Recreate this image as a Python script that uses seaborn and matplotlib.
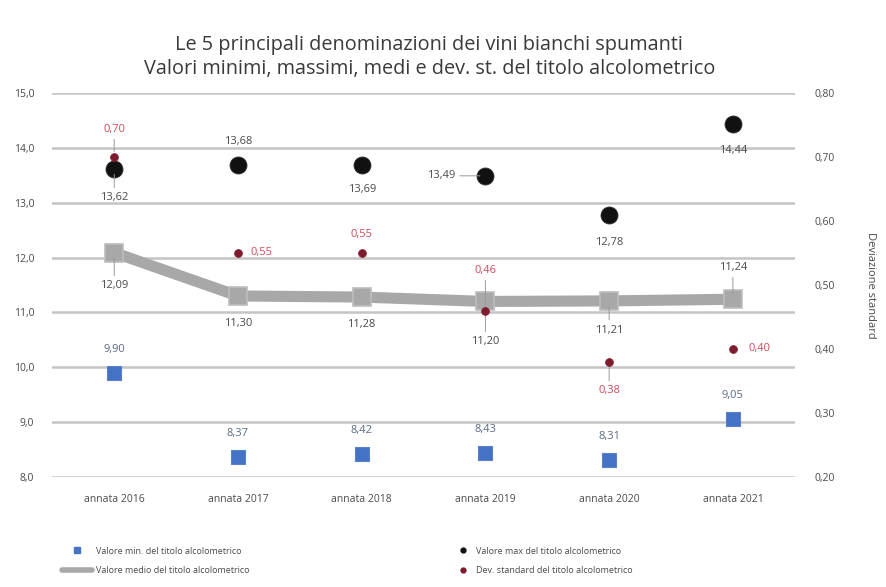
import numpy as np
import pandas as pd
import matplotlib
matplotlib.use("Agg")
import matplotlib.pyplot as plt
from matplotlib.lines import Line2D
import seaborn as sns

# --- data -------------------------------------------------------------
annate = ["annata 2016", "annata 2017", "annata 2018", "annata 2019", "annata 2020", "annata 2021"]
valore_min = [9.90, 8.37, 8.42, 8.43, 8.31, 9.05]
valore_max = [13.62, 13.68, 13.69, 13.49, 12.78, 14.44]
valore_medio = [12.09, 11.30, 11.28, 11.20, 11.21, 11.24]
dev_standard = [0.70, 0.55, 0.55, 0.46, 0.38, 0.40]

left_ticks = [8.0, 9.0, 10.0, 11.0, 12.0, 13.0, 14.0, 15.0]
right_ticks = [0.20, 0.30, 0.40, 0.50, 0.60, 0.70, 0.80]

title_lines = ["Le 5 principali denominazioni dei vini bianchi spumanti",
               "Valori minimi, massimi, medi e dev. st. del titolo alcolometrico"]
legend_labels = ["Valore min. del titolo alcolometrico",
                 "Valore medio del titolo alcolometrico",
                 "Valore max del titolo alcolometrico",
                 "Dev. standard del titolo alcolometrico"]
right_label = "Deviazione standard"

df = pd.DataFrame({
    "pos": np.arange(len(annate)),
    "annata": annate,
    "min": valore_min,
    "max": valore_max,
    "medio": valore_medio,
    "dev": dev_standard,
})

# --- style ------------------------------------------------------------
sns.set_theme(style="white")
plt.rcParams["font.family"] = ["Open Sans", "DejaVu Sans"]

C_BLUE = "#4472c4"
C_BLACK = "#111111"
C_GREY = "#a8a8a8"
C_DEV = "#7e1b2e"
C_DEVTXT = "#d04a5c"
C_TXT = "#4a4a4a"
C_MINTXT = "#5b6a82"
C_GRID = "#c4c4c4"

fig = plt.figure(figsize=(8.87, 5.87), dpi=100)
ax = fig.add_axes([0.059, 0.1874, 0.837, 0.6542])
ax2 = ax.twinx()

# mean line (thick grey band with square markers)
sns.lineplot(data=df, x="pos", y="medio", ax=ax, color=C_GREY, lw=8,
             marker="s", markersize=13, markerfacecolor=C_GREY,
             markeredgecolor="#bdbdbd", markeredgewidth=1.2, zorder=3)
# minimum and maximum values
sns.scatterplot(data=df, x="pos", y="min", ax=ax, color=C_BLUE, marker="s",
                s=110, edgecolor="#5b82c9", linewidth=0.8, zorder=4)
sns.scatterplot(data=df, x="pos", y="max", ax=ax, color=C_BLACK, marker="o",
                s=150, edgecolor="#333333", linewidth=0.6, zorder=4)
# standard deviation on the secondary axis
sns.scatterplot(data=df, x="pos", y="dev", ax=ax2, color=C_DEV, marker="o",
                s=32, edgecolor=C_DEV, linewidth=0.5, zorder=5)

ax.set_xlim(-0.5, len(annate) - 0.5)
ax.set_ylim(left_ticks[0], left_ticks[-1])
ax2.set_ylim(right_ticks[0], right_ticks[-1])

fmt1 = lambda v: f"{v:.1f}".replace(".", ",")
fmt2 = lambda v: f"{v:.2f}".replace(".", ",")

ax.set_yticks(left_ticks)
ax.set_yticklabels([fmt1(v) for v in left_ticks])
ax2.set_yticks(right_ticks)
ax2.set_yticklabels([fmt2(v) for v in right_ticks])
ax.set_xticks(df["pos"])
ax.set_xticklabels(annate)

ax.grid(axis="y", color=C_GRID, lw=1.8)
ax.grid(axis="x", visible=False)
ax2.grid(False)
ax.set_axisbelow(True)
for a in (ax, ax2):
    for s in a.spines.values():
        s.set_visible(False)
    a.set_xlabel("")
    a.set_ylabel("")
ax.tick_params(axis="y", length=0, pad=13, labelsize=7.5, labelcolor=C_TXT)
ax.tick_params(axis="x", length=0, pad=12, labelsize=7.5, labelcolor=C_TXT)
ax2.tick_params(axis="y", length=0, pad=14, labelsize=7.5, labelcolor=C_TXT)

ax2.set_ylabel(right_label, rotation=270, fontsize=8, color=C_TXT, labelpad=30)


def label(axis, x, y, text, dx, dy, color, ha="center", leader=False):
    axis.annotate(text, (x, y), xytext=(dx, dy), textcoords="offset points",
                  ha=ha, va="center", fontsize=8, color=color, zorder=6,
                  arrowprops=dict(arrowstyle="-", color="#9a9a9a", lw=0.7,
                                  shrinkA=1, shrinkB=4) if leader else None)


# max labels
max_off = [(0, -21, True), (0, 17, False), (0, -18, False), (-32, 0, True), (0, -20, False), (0, -19, False)]
for i, (v, (dx, dy, ld)) in enumerate(zip(valore_max, max_off)):
    label(ax, i, v, fmt2(v), dx, dy, C_TXT, leader=ld)
# mean labels
mean_off = [(0, -24, True), (0, -20, False), (0, -20, False), (0, -29, True), (0, -21, True), (0, 23, True)]
for i, (v, (dx, dy, ld)) in enumerate(zip(valore_medio, mean_off)):
    label(ax, i, v, fmt2(v), dx, dy, C_TXT, leader=ld)
# min labels
for i, v in enumerate(valore_min):
    label(ax, i, v, fmt2(v), 0, 17, C_MINTXT)
# std labels
dev_off = [(0, 20, True), (17, 0, False), (0, 13, False), (0, 29, True), (0, -21, True), (19, 0, False)]
for i, (v, (dx, dy, ld)) in enumerate(zip(dev_standard, dev_off)):
    label(ax2, i, v, fmt2(v), dx, dy, C_DEVTXT, leader=ld)

# title
fig.text(0.484, 1 - 45 / 587, title_lines[0], ha="center", va="center", fontsize=14.3, color="#3a3a3a")
fig.text(0.484, 1 - 69 / 587, title_lines[1], ha="center", va="center", fontsize=14.3, color="#3a3a3a")

# legend in two columns
h_min = Line2D([], [], ls="none", marker="s", markersize=4, color=C_BLUE)
h_mean = Line2D([], [], color=C_GREY, lw=4)
h_max = Line2D([], [], ls="none", marker="o", markersize=3.5, color=C_BLACK)
h_dev = Line2D([], [], ls="none", marker="o", markersize=3.5, color=C_DEV)
leg_kw = dict(frameon=False, fontsize=6.5, labelcolor=C_TXT, labelspacing=1.2,
              borderaxespad=0)
fig.legend([h_min, h_mean], legend_labels[:2], loc="upper left",
           bbox_to_anchor=(58 / 887, 1 - 543 / 587), handlelength=3.4,
           handletextpad=0.4, **leg_kw)
fig.legend([h_max, h_dev], legend_labels[2:], loc="upper left",
           bbox_to_anchor=(450 / 887, 1 - 543 / 587), handlelength=2.0,
           handletextpad=0.5, **leg_kw)

fig.savefig("out.png", dpi=100)
